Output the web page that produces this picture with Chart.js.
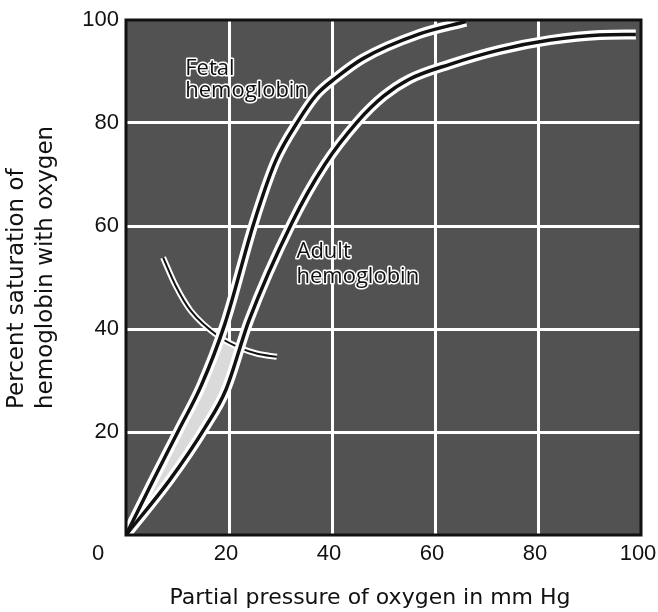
<!DOCTYPE html>
<html>
<head>
<meta charset="utf-8">
<script src="https://cdn.jsdelivr.net/npm/chart.js@4.4.1/dist/chart.umd.min.js"></script>
<style>
  html, body { margin: 0; padding: 0; background: #fff; }
  #wrap { width: 658px; height: 612px; }
</style>
</head>
<body>
<div id="wrap"><canvas id="mychart"></canvas></div>
<script>
// curves (x = mm Hg, y = % saturation)
var fetalPressure = [0, 5.2, 10.3, 14.6, 19.2, 24.8, 29, 33.5, 37, 40.8, 46, 57, 66]
var fetalSaturation = [0, 10.5, 20.5, 29, 41, 60.5, 72.5, 80.5, 85.5, 88.8, 92.5, 97.3, 99.7]
var adultPressure = [0, 8.5, 15.3, 19.4, 23.9, 32.2, 38.5, 45, 50, 55, 62.9, 72.6, 82.3, 92, 99]
var adultSaturation = [0, 10.7, 20.8, 28.2, 41.7, 60.6, 71.8, 80.3, 85.2, 88.5, 91.4, 94.2, 96.1, 97.1, 97.2]
// the thin arc that cuts across both curves
var arcPressure = [7.2, 9.6, 12.6, 18.2, 22.2, 25.5, 29.3]
var arcSaturation = [53.9, 48.5, 43.5, 38.4, 36.3, 35.2, 34.6]
var tickValues = [0, 20, 40, 60, 80, 100]

function toPoints(xs, ys) {
    return xs.map(function (x, i) { return {x: x, y: ys[i]} })
}

var fetal = toPoints(fetalPressure, fetalSaturation)
var adult = toPoints(adultPressure, adultSaturation)
var arc = toPoints(arcPressure, arcSaturation)

// light band between the two curves, below the arc
var band = fetal.filter(function (p) { return p.x < arcPressure[3] })
band.push(arc[3], arc[4])

// label anchors in data units
var notes = [
    {text: 'Fetal', x: 11.5, y: 89.3},
    {text: 'hemoglobin', x: 11.5, y: 85.0},
    {text: 'Adult', x: 33.1, y: 53.8},
    {text: 'hemoglobin', x: 33.1, y: 48.9}
]

var paper = {
    id: 'paper',
    beforeDraw: function (chart) {
        var ctx = chart.ctx, a = chart.chartArea
        ctx.save()
        ctx.fillStyle = '#525252'
        ctx.fillRect(a.left, a.top, a.right - a.left, a.bottom - a.top)
        ctx.restore()
    },
    afterDraw: function (chart) {
        var ctx = chart.ctx, a = chart.chartArea
        var xs = chart.scales.x, ys = chart.scales.y
        ctx.save()
        // frame
        ctx.strokeStyle = '#111'
        ctx.lineWidth = 3
        ctx.strokeRect(a.left, a.top, a.right - a.left, a.bottom - a.top)

        // curve labels, black with a white halo
        ctx.font = '22px "Open Sans"'
        ctx.textAlign = 'left'
        ctx.textBaseline = 'alphabetic'
        ctx.lineJoin = 'round'
        notes.forEach(function (n) {
            var px = xs.getPixelForValue(n.x), py = ys.getPixelForValue(n.y)
            ctx.strokeStyle = '#fff'
            ctx.lineWidth = 3
            ctx.strokeText(n.text, px, py)
            ctx.fillStyle = '#111'
            ctx.fillText(n.text, px, py)
        })

        // shared origin label
        ctx.font = '22px "Liberation Sans"'
        ctx.fillStyle = '#111'
        ctx.textAlign = 'center'
        ctx.textBaseline = 'middle'
        ctx.fillText('0', a.left - 28, a.bottom + 19)

        // axis titles
        ctx.font = '22px "DejaVu Sans"'
        ctx.fillText('Partial pressure of oxygen in mm Hg', 370, 598)
        ctx.font = '23px "DejaVu Sans"'
        ctx.translate(0, 409)
        ctx.rotate(-Math.PI / 2)
        ctx.textAlign = 'left'
        ctx.fillText('Percent saturation of', 0, 17)
        ctx.fillText('hemoglobin with oxygen', 0, 46)
        ctx.restore()
    }
}

function gridColor(c) {
    return (c.tick.value === 0 || c.tick.value === 100) ? 'rgba(0,0,0,0)' : '#ffffff'
}

var mychart = document.getElementById('mychart').getContext('2d')
var chart = new Chart(mychart, {
    type: 'scatter',
    data: {
        datasets: [
            {label: 'Fetal hemoglobin', data: fetal, borderColor: '#111', borderWidth: 3.5},
            {label: 'Adult hemoglobin', data: adult, borderColor: '#111', borderWidth: 3.5},
            {label: 'fetal halo', data: fetal, borderColor: '#fff', borderWidth: 10},
            {label: 'adult halo', data: adult, borderColor: '#fff', borderWidth: 10},
            {label: 'arc', data: arc, borderColor: '#111', borderWidth: 2},
            {label: 'arc halo', data: arc, borderColor: '#fff', borderWidth: 6},
            {label: 'band', data: band, borderWidth: 0, borderColor: 'rgba(0,0,0,0)',
             backgroundColor: '#dadada', fill: {target: 1}}
        ].map(function (d) {
            d.showLine = true
            d.pointRadius = 0
            d.pointHoverRadius = 0
            d.cubicInterpolationMode = 'monotone'
            if (!d.fill) d.fill = false
            return d
        })
    },
    options: {
        responsive: true,
        maintainAspectRatio: false,
        animation: false,
        events: [],
        layout: {padding: {left: 76, right: 17, top: 20, bottom: 37}},
        plugins: {legend: {display: false}, tooltip: {enabled: false}},
        scales: {
            x: {
                type: 'linear', min: 0, max: 100,
                afterBuildTicks: function (s) { s.ticks = tickValues.map(function (v) { return {value: v} }) },
                afterFit: function (s) { s.height = 40; s.paddingLeft = 0; s.paddingRight = 0 },
                border: {display: false},
                grid: {color: gridColor, lineWidth: 3, drawTicks: false},
                ticks: {
                    padding: 6, color: '#111', maxRotation: 0, labelOffset: -3,
                    font: {family: 'Liberation Sans', size: 22},
                    callback: function (v) { return v === 0 ? '' : v }
                }
            },
            y: {
                type: 'linear', min: 0, max: 100,
                afterBuildTicks: function (s) { s.ticks = tickValues.map(function (v) { return {value: v} }) },
                afterFit: function (s) { s.width = 50; s.paddingTop = 0; s.paddingBottom = 0 },
                border: {display: false},
                grid: {color: gridColor, lineWidth: 3, drawTicks: false},
                ticks: {
                    padding: 7, color: '#111',
                    font: {family: 'Liberation Sans', size: 22},
                    callback: function (v) { return v === 0 ? '' : v }
                }
            }
        }
    },
    plugins: [paper]
})
</script>
</body>
</html>
